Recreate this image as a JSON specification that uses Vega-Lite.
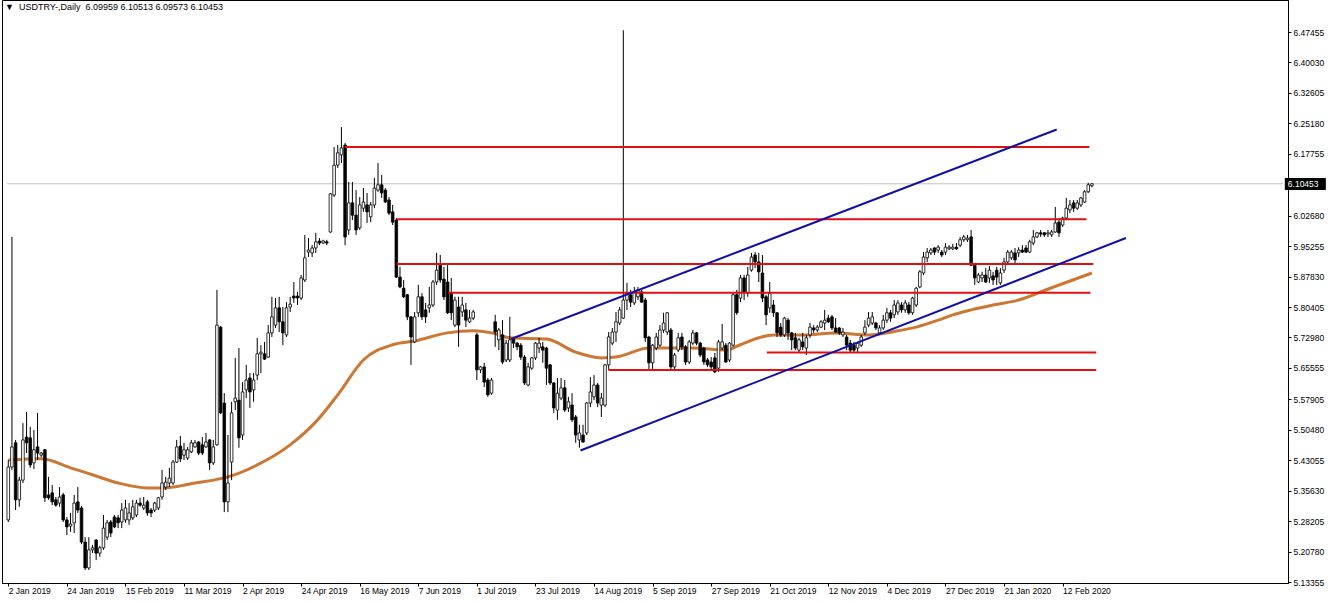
{
"$schema": "https://vega.github.io/schema/vega-lite/v6.json",
"width": 1286, "height": 583,
"autosize": {"type": "none"},
"padding": {"left": 2, "top": 0, "right": 44, "bottom": 20},
"background": "#ffffff",
"config": {"view": {"stroke": "#000000", "strokeWidth": 1}, "axis": {"domainColor": "#000000", "tickColor": "#000000", "labelColor": "#000000", "labelFont": "Liberation Sans", "labelFontSize": 8.5, "grid": false, "tickSize": 3}},
"title": {"text": "\u25bc\u00a0\u00a0USDTRY-,Daily\u00a0\u00a06.09959 6.10513 6.09573 6.10453", "anchor": "start", "frame": "group", "orient": "top", "baseline": "top", "offset": -12, "dx": 3, "font": "Liberation Sans", "fontSize": 9, "fontWeight": "normal", "color": "#000000"},
"datasets": {
"candles": [
{"i":0,"o":5.285,"h":5.431,"l":5.280,"c":5.414},
{"i":1,"o":5.414,"h":5.975,"l":5.407,"c":5.463},
{"i":2,"o":5.473,"h":5.480,"l":5.309,"c":5.334},
{"i":3,"o":5.334,"h":5.390,"l":5.317,"c":5.382},
{"i":4,"o":5.382,"h":5.521,"l":5.375,"c":5.480},
{"i":5,"o":5.487,"h":5.548,"l":5.448,"c":5.473},
{"i":6,"o":5.485,"h":5.512,"l":5.412,"c":5.419},
{"i":7,"o":5.424,"h":5.504,"l":5.409,"c":5.456},
{"i":8,"o":5.463,"h":5.546,"l":5.431,"c":5.448},
{"i":9,"o":5.443,"h":5.451,"l":5.438,"c":5.448},
{"i":10,"o":5.456,"h":5.458,"l":5.329,"c":5.339},
{"i":11,"o":5.346,"h":5.390,"l":5.334,"c":5.339},
{"i":12,"o":5.351,"h":5.370,"l":5.321,"c":5.329},
{"i":13,"o":5.334,"h":5.341,"l":5.317,"c":5.321},
{"i":14,"o":5.326,"h":5.365,"l":5.317,"c":5.341},
{"i":15,"o":5.346,"h":5.351,"l":5.280,"c":5.285},
{"i":16,"o":5.285,"h":5.292,"l":5.248,"c":5.268},
{"i":17,"o":5.270,"h":5.302,"l":5.256,"c":5.275},
{"i":18,"o":5.278,"h":5.346,"l":5.253,"c":5.326},
{"i":19,"o":5.329,"h":5.365,"l":5.302,"c":5.309},
{"i":20,"o":5.314,"h":5.319,"l":5.226,"c":5.231},
{"i":21,"o":5.231,"h":5.243,"l":5.163,"c":5.168},
{"i":22,"o":5.168,"h":5.243,"l":5.163,"c":5.212},
{"i":23,"o":5.212,"h":5.224,"l":5.204,"c":5.217},
{"i":24,"o":5.236,"h":5.238,"l":5.187,"c":5.204},
{"i":25,"o":5.204,"h":5.222,"l":5.195,"c":5.217},
{"i":26,"o":5.217,"h":5.297,"l":5.212,"c":5.265},
{"i":27,"o":5.243,"h":5.285,"l":5.236,"c":5.278},
{"i":28,"o":5.280,"h":5.285,"l":5.243,"c":5.253},
{"i":29,"o":5.292,"h":5.297,"l":5.265,"c":5.268},
{"i":30,"o":5.290,"h":5.297,"l":5.265,"c":5.278},
{"i":31,"o":5.280,"h":5.326,"l":5.265,"c":5.309},
{"i":32,"o":5.285,"h":5.334,"l":5.278,"c":5.314},
{"i":33,"o":5.285,"h":5.326,"l":5.273,"c":5.302},
{"i":34,"o":5.290,"h":5.334,"l":5.285,"c":5.317},
{"i":35,"o":5.297,"h":5.334,"l":5.292,"c":5.326},
{"i":36,"o":5.326,"h":5.339,"l":5.317,"c":5.321},
{"i":37,"o":5.314,"h":5.341,"l":5.309,"c":5.321},
{"i":38,"o":5.329,"h":5.334,"l":5.295,"c":5.302},
{"i":39,"o":5.309,"h":5.314,"l":5.292,"c":5.302},
{"i":40,"o":5.309,"h":5.329,"l":5.304,"c":5.326},
{"i":41,"o":5.314,"h":5.341,"l":5.309,"c":5.339},
{"i":42,"o":5.341,"h":5.407,"l":5.334,"c":5.375},
{"i":43,"o":5.365,"h":5.390,"l":5.358,"c":5.377},
{"i":44,"o":5.375,"h":5.412,"l":5.365,"c":5.387},
{"i":45,"o":5.375,"h":5.431,"l":5.370,"c":5.426},
{"i":46,"o":5.426,"h":5.480,"l":5.424,"c":5.463},
{"i":47,"o":5.465,"h":5.490,"l":5.426,"c":5.434},
{"i":48,"o":5.443,"h":5.473,"l":5.431,"c":5.456},
{"i":49,"o":5.436,"h":5.463,"l":5.431,"c":5.456},
{"i":50,"o":5.451,"h":5.480,"l":5.448,"c":5.473},
{"i":51,"o":5.463,"h":5.480,"l":5.461,"c":5.473},
{"i":52,"o":5.475,"h":5.477,"l":5.443,"c":5.448},
{"i":53,"o":5.468,"h":5.487,"l":5.443,"c":5.448},
{"i":54,"o":5.463,"h":5.497,"l":5.461,"c":5.475},
{"i":55,"o":5.480,"h":5.482,"l":5.407,"c":5.424},
{"i":56,"o":5.424,"h":5.480,"l":5.419,"c":5.463},
{"i":57,"o":5.468,"h":5.846,"l":5.466,"c":5.760},
{"i":58,"o":5.755,"h":5.758,"l":5.543,"c":5.546},
{"i":59,"o":5.570,"h":5.594,"l":5.304,"c":5.329},
{"i":60,"o":5.329,"h":5.492,"l":5.304,"c":5.375},
{"i":61,"o":5.426,"h":5.573,"l":5.382,"c":5.546},
{"i":62,"o":5.573,"h":5.680,"l":5.553,"c":5.582},
{"i":63,"o":5.577,"h":5.704,"l":5.461,"c":5.485},
{"i":64,"o":5.492,"h":5.621,"l":5.480,"c":5.597},
{"i":65,"o":5.602,"h":5.663,"l":5.582,"c":5.626},
{"i":66,"o":5.631,"h":5.643,"l":5.558,"c":5.597},
{"i":67,"o":5.602,"h":5.643,"l":5.573,"c":5.626},
{"i":68,"o":5.638,"h":5.729,"l":5.626,"c":5.690},
{"i":69,"o":5.690,"h":5.711,"l":5.643,"c":5.694},
{"i":70,"o":5.690,"h":5.719,"l":5.675,"c":5.677},
{"i":71,"o":5.682,"h":5.760,"l":5.680,"c":5.741},
{"i":72,"o":5.741,"h":5.829,"l":5.731,"c":5.780},
{"i":73,"o":5.760,"h":5.826,"l":5.753,"c":5.802},
{"i":74,"o":5.802,"h":5.829,"l":5.743,"c":5.768},
{"i":75,"o":5.768,"h":5.804,"l":5.711,"c":5.741},
{"i":76,"o":5.736,"h":5.816,"l":5.731,"c":5.802},
{"i":77,"o":5.804,"h":5.829,"l":5.792,"c":5.811},
{"i":78,"o":5.831,"h":5.865,"l":5.814,"c":5.826},
{"i":79,"o":5.831,"h":5.841,"l":5.809,"c":5.826},
{"i":80,"o":5.826,"h":5.882,"l":5.821,"c":5.875},
{"i":81,"o":5.870,"h":5.980,"l":5.865,"c":5.924},
{"i":82,"o":5.938,"h":5.972,"l":5.926,"c":5.943},
{"i":83,"o":5.936,"h":5.955,"l":5.926,"c":5.948},
{"i":84,"o":5.948,"h":5.985,"l":5.936,"c":5.963},
{"i":85,"o":5.965,"h":5.972,"l":5.955,"c":5.960},
{"i":86,"o":5.960,"h":5.968,"l":5.958,"c":5.965},
{"i":87,"o":5.963,"h":5.968,"l":5.955,"c":5.960},
{"i":88,"o":5.987,"h":6.082,"l":5.985,"c":6.080},
{"i":89,"o":6.077,"h":6.194,"l":6.072,"c":6.150},
{"i":90,"o":6.150,"h":6.199,"l":6.143,"c":6.180},
{"i":91,"o":6.175,"h":6.243,"l":6.155,"c":6.192},
{"i":92,"o":6.199,"h":6.204,"l":5.955,"c":5.975},
{"i":93,"o":5.992,"h":6.109,"l":5.980,"c":6.058},
{"i":94,"o":6.058,"h":6.109,"l":6.016,"c":6.028},
{"i":95,"o":6.028,"h":6.089,"l":5.980,"c":5.992},
{"i":96,"o":5.997,"h":6.072,"l":5.992,"c":6.053},
{"i":97,"o":6.045,"h":6.094,"l":6.036,"c":6.060},
{"i":98,"o":6.053,"h":6.082,"l":6.009,"c":6.036},
{"i":99,"o":6.024,"h":6.060,"l":6.011,"c":6.053},
{"i":100,"o":6.053,"h":6.119,"l":6.045,"c":6.094},
{"i":101,"o":6.089,"h":6.155,"l":6.085,"c":6.102},
{"i":102,"o":6.102,"h":6.126,"l":6.070,"c":6.082},
{"i":103,"o":6.089,"h":6.094,"l":6.058,"c":6.060},
{"i":104,"o":6.065,"h":6.072,"l":6.028,"c":6.033},
{"i":105,"o":6.036,"h":6.053,"l":6.004,"c":6.011},
{"i":106,"o":6.016,"h":6.021,"l":5.875,"c":5.877},
{"i":107,"o":5.877,"h":5.902,"l":5.850,"c":5.853},
{"i":108,"o":5.850,"h":5.870,"l":5.826,"c":5.829},
{"i":109,"o":5.834,"h":5.836,"l":5.772,"c":5.780},
{"i":110,"o":5.780,"h":5.782,"l":5.663,"c":5.731},
{"i":111,"o":5.719,"h":5.792,"l":5.716,"c":5.780},
{"i":112,"o":5.790,"h":5.858,"l":5.780,"c":5.829},
{"i":113,"o":5.829,"h":5.838,"l":5.772,"c":5.780},
{"i":114,"o":5.797,"h":5.814,"l":5.765,"c":5.780},
{"i":115,"o":5.802,"h":5.853,"l":5.790,"c":5.809},
{"i":116,"o":5.809,"h":5.870,"l":5.804,"c":5.865},
{"i":117,"o":5.865,"h":5.936,"l":5.858,"c":5.894},
{"i":118,"o":5.906,"h":5.931,"l":5.863,"c":5.870},
{"i":119,"o":5.872,"h":5.902,"l":5.821,"c":5.829},
{"i":120,"o":5.865,"h":5.906,"l":5.787,"c":5.790},
{"i":121,"o":5.838,"h":5.875,"l":5.772,"c":5.790},
{"i":122,"o":5.760,"h":5.829,"l":5.755,"c":5.821},
{"i":123,"o":5.804,"h":5.829,"l":5.707,"c":5.760},
{"i":124,"o":5.792,"h":5.829,"l":5.780,"c":5.809},
{"i":125,"o":5.797,"h":5.814,"l":5.755,"c":5.772},
{"i":126,"o":5.768,"h":5.797,"l":5.765,"c":5.777},
{"i":127,"o":5.777,"h":5.797,"l":5.772,"c":5.792},
{"i":128,"o":5.736,"h":5.741,"l":5.626,"c":5.651},
{"i":129,"o":5.651,"h":5.660,"l":5.643,"c":5.658},
{"i":130,"o":5.658,"h":5.668,"l":5.609,"c":5.621},
{"i":131,"o":5.626,"h":5.631,"l":5.585,"c":5.590},
{"i":132,"o":5.594,"h":5.631,"l":5.590,"c":5.626},
{"i":133,"o":5.768,"h":5.785,"l":5.707,"c":5.743},
{"i":134,"o":5.724,"h":5.753,"l":5.699,"c":5.748},
{"i":135,"o":5.736,"h":5.772,"l":5.665,"c":5.670},
{"i":136,"o":5.675,"h":5.724,"l":5.670,"c":5.716},
{"i":137,"o":5.675,"h":5.780,"l":5.670,"c":5.724},
{"i":138,"o":5.726,"h":5.731,"l":5.704,"c":5.716},
{"i":139,"o":5.716,"h":5.719,"l":5.699,"c":5.707},
{"i":140,"o":5.711,"h":5.716,"l":5.675,"c":5.682},
{"i":141,"o":5.682,"h":5.687,"l":5.614,"c":5.619},
{"i":142,"o":5.614,"h":5.668,"l":5.611,"c":5.658},
{"i":143,"o":5.655,"h":5.682,"l":5.651,"c":5.680},
{"i":144,"o":5.680,"h":5.719,"l":5.675,"c":5.716},
{"i":145,"o":5.704,"h":5.729,"l":5.692,"c":5.716},
{"i":146,"o":5.707,"h":5.719,"l":5.668,"c":5.699},
{"i":147,"o":5.704,"h":5.707,"l":5.614,"c":5.655},
{"i":148,"o":5.663,"h":5.665,"l":5.614,"c":5.619},
{"i":149,"o":5.619,"h":5.621,"l":5.546,"c":5.558},
{"i":150,"o":5.553,"h":5.631,"l":5.529,"c":5.594},
{"i":151,"o":5.582,"h":5.631,"l":5.577,"c":5.607},
{"i":152,"o":5.607,"h":5.626,"l":5.548,"c":5.553},
{"i":153,"o":5.558,"h":5.585,"l":5.548,"c":5.573},
{"i":154,"o":5.565,"h":5.594,"l":5.524,"c":5.529},
{"i":155,"o":5.536,"h":5.541,"l":5.473,"c":5.492},
{"i":156,"o":5.480,"h":5.517,"l":5.461,"c":5.497},
{"i":157,"o":5.492,"h":5.517,"l":5.473,"c":5.475},
{"i":158,"o":5.497,"h":5.572,"l":5.492,"c":5.570},
{"i":159,"o":5.570,"h":5.633,"l":5.560,"c":5.597},
{"i":160,"o":5.585,"h":5.638,"l":5.577,"c":5.614},
{"i":161,"o":5.614,"h":5.619,"l":5.560,"c":5.570},
{"i":162,"o":5.565,"h":5.594,"l":5.536,"c":5.582},
{"i":163,"o":5.565,"h":5.665,"l":5.560,"c":5.663},
{"i":164,"o":5.663,"h":5.743,"l":5.651,"c":5.731},
{"i":165,"o":5.716,"h":5.753,"l":5.711,"c":5.743},
{"i":166,"o":5.743,"h":5.792,"l":5.719,"c":5.768},
{"i":167,"o":5.765,"h":5.804,"l":5.760,"c":5.797},
{"i":168,"o":5.777,"h":6.479,"l":5.775,"c":5.821},
{"i":169,"o":5.821,"h":5.863,"l":5.797,"c":5.838},
{"i":170,"o":5.834,"h":5.846,"l":5.804,"c":5.816},
{"i":171,"o":5.814,"h":5.853,"l":5.809,"c":5.841},
{"i":172,"o":5.829,"h":5.853,"l":5.821,"c":5.846},
{"i":173,"o":5.841,"h":5.846,"l":5.814,"c":5.816},
{"i":174,"o":5.821,"h":5.826,"l":5.719,"c":5.729},
{"i":175,"o":5.731,"h":5.734,"l":5.651,"c":5.668},
{"i":176,"o":5.668,"h":5.714,"l":5.651,"c":5.711},
{"i":177,"o":5.704,"h":5.741,"l":5.699,"c":5.731},
{"i":178,"o":5.711,"h":5.760,"l":5.707,"c":5.748},
{"i":179,"o":5.748,"h":5.790,"l":5.741,"c":5.765},
{"i":180,"o":5.743,"h":5.792,"l":5.736,"c":5.790},
{"i":181,"o":5.748,"h":5.753,"l":5.651,"c":5.658},
{"i":182,"o":5.658,"h":5.692,"l":5.651,"c":5.687},
{"i":183,"o":5.699,"h":5.741,"l":5.694,"c":5.729},
{"i":184,"o":5.731,"h":5.741,"l":5.699,"c":5.707},
{"i":185,"o":5.707,"h":5.711,"l":5.663,"c":5.670},
{"i":186,"o":5.670,"h":5.724,"l":5.665,"c":5.719},
{"i":187,"o":5.716,"h":5.748,"l":5.711,"c":5.741},
{"i":188,"o":5.741,"h":5.743,"l":5.711,"c":5.716},
{"i":189,"o":5.716,"h":5.719,"l":5.682,"c":5.687},
{"i":190,"o":5.704,"h":5.707,"l":5.663,"c":5.670},
{"i":191,"o":5.675,"h":5.680,"l":5.658,"c":5.663},
{"i":192,"o":5.670,"h":5.682,"l":5.651,"c":5.658},
{"i":193,"o":5.680,"h":5.692,"l":5.643,"c":5.646},
{"i":194,"o":5.655,"h":5.724,"l":5.646,"c":5.719},
{"i":195,"o":5.704,"h":5.763,"l":5.699,"c":5.719},
{"i":196,"o":5.711,"h":5.716,"l":5.668,"c":5.670},
{"i":197,"o":5.675,"h":5.719,"l":5.670,"c":5.716},
{"i":198,"o":5.711,"h":5.841,"l":5.707,"c":5.834},
{"i":199,"o":5.834,"h":5.846,"l":5.785,"c":5.790},
{"i":200,"o":5.826,"h":5.882,"l":5.816,"c":5.875},
{"i":201,"o":5.875,"h":5.882,"l":5.821,"c":5.841},
{"i":202,"o":5.838,"h":5.902,"l":5.829,"c":5.882},
{"i":203,"o":5.894,"h":5.936,"l":5.890,"c":5.926},
{"i":204,"o":5.931,"h":5.938,"l":5.899,"c":5.914},
{"i":205,"o":5.914,"h":5.936,"l":5.865,"c":5.890},
{"i":206,"o":5.887,"h":5.931,"l":5.816,"c":5.826},
{"i":207,"o":5.829,"h":5.834,"l":5.760,"c":5.785},
{"i":208,"o":5.802,"h":5.865,"l":5.790,"c":5.838},
{"i":209,"o":5.809,"h":5.821,"l":5.780,"c":5.790},
{"i":210,"o":5.790,"h":5.792,"l":5.731,"c":5.741},
{"i":211,"o":5.755,"h":5.765,"l":5.731,"c":5.736},
{"i":212,"o":5.736,"h":5.780,"l":5.731,"c":5.777},
{"i":213,"o":5.772,"h":5.777,"l":5.724,"c":5.741},
{"i":214,"o":5.741,"h":5.743,"l":5.699,"c":5.724},
{"i":215,"o":5.729,"h":5.741,"l":5.699,"c":5.704},
{"i":216,"o":5.699,"h":5.729,"l":5.694,"c":5.724},
{"i":217,"o":5.719,"h":5.741,"l":5.699,"c":5.707},
{"i":218,"o":5.704,"h":5.736,"l":5.687,"c":5.729},
{"i":219,"o":5.736,"h":5.765,"l":5.729,"c":5.755},
{"i":220,"o":5.753,"h":5.760,"l":5.741,"c":5.748},
{"i":221,"o":5.748,"h":5.760,"l":5.743,"c":5.755},
{"i":222,"o":5.755,"h":5.772,"l":5.753,"c":5.768},
{"i":223,"o":5.765,"h":5.797,"l":5.748,"c":5.772},
{"i":224,"o":5.777,"h":5.785,"l":5.765,"c":5.768},
{"i":225,"o":5.780,"h":5.785,"l":5.748,"c":5.753},
{"i":226,"o":5.753,"h":5.777,"l":5.741,"c":5.743},
{"i":227,"o":5.753,"h":5.755,"l":5.736,"c":5.741},
{"i":228,"o":5.736,"h":5.753,"l":5.731,"c":5.743},
{"i":229,"o":5.731,"h":5.736,"l":5.699,"c":5.711},
{"i":230,"o":5.716,"h":5.724,"l":5.694,"c":5.699},
{"i":231,"o":5.711,"h":5.719,"l":5.694,"c":5.699},
{"i":232,"o":5.704,"h":5.719,"l":5.692,"c":5.716},
{"i":233,"o":5.711,"h":5.736,"l":5.707,"c":5.731},
{"i":234,"o":5.741,"h":5.772,"l":5.736,"c":5.755},
{"i":235,"o":5.760,"h":5.792,"l":5.755,"c":5.777},
{"i":236,"o":5.765,"h":5.792,"l":5.760,"c":5.780},
{"i":237,"o":5.765,"h":5.768,"l":5.748,"c":5.753},
{"i":238,"o":5.741,"h":5.760,"l":5.736,"c":5.753},
{"i":239,"o":5.753,"h":5.785,"l":5.748,"c":5.772},
{"i":240,"o":5.772,"h":5.802,"l":5.765,"c":5.790},
{"i":241,"o":5.790,"h":5.797,"l":5.768,"c":5.777},
{"i":242,"o":5.785,"h":5.821,"l":5.777,"c":5.809},
{"i":243,"o":5.792,"h":5.821,"l":5.785,"c":5.814},
{"i":244,"o":5.809,"h":5.816,"l":5.790,"c":5.797},
{"i":245,"o":5.797,"h":5.821,"l":5.790,"c":5.814},
{"i":246,"o":5.809,"h":5.816,"l":5.785,"c":5.790},
{"i":247,"o":5.790,"h":5.829,"l":5.785,"c":5.826},
{"i":248,"o":5.809,"h":5.853,"l":5.804,"c":5.850},
{"i":249,"o":5.853,"h":5.894,"l":5.850,"c":5.890},
{"i":250,"o":5.887,"h":5.938,"l":5.882,"c":5.926},
{"i":251,"o":5.924,"h":5.948,"l":5.914,"c":5.938},
{"i":252,"o":5.936,"h":5.948,"l":5.931,"c":5.943},
{"i":253,"o":5.948,"h":5.950,"l":5.931,"c":5.938},
{"i":254,"o":5.943,"h":5.955,"l":5.936,"c":5.950},
{"i":255,"o":5.938,"h":5.943,"l":5.926,"c":5.931},
{"i":256,"o":5.938,"h":5.960,"l":5.931,"c":5.950},
{"i":257,"o":5.946,"h":5.955,"l":5.943,"c":5.950},
{"i":258,"o":5.946,"h":5.958,"l":5.943,"c":5.950},
{"i":259,"o":5.950,"h":5.960,"l":5.943,"c":5.946},
{"i":260,"o":5.955,"h":5.975,"l":5.950,"c":5.968},
{"i":261,"o":5.968,"h":5.980,"l":5.963,"c":5.975},
{"i":262,"o":5.968,"h":5.980,"l":5.963,"c":5.972},
{"i":263,"o":5.975,"h":5.992,"l":5.904,"c":5.906},
{"i":264,"o":5.906,"h":5.911,"l":5.858,"c":5.875},
{"i":265,"o":5.865,"h":5.887,"l":5.863,"c":5.882},
{"i":266,"o":5.875,"h":5.890,"l":5.865,"c":5.882},
{"i":267,"o":5.882,"h":5.899,"l":5.863,"c":5.865},
{"i":268,"o":5.875,"h":5.904,"l":5.863,"c":5.894},
{"i":269,"o":5.880,"h":5.890,"l":5.858,"c":5.870},
{"i":270,"o":5.894,"h":5.902,"l":5.858,"c":5.877},
{"i":271,"o":5.863,"h":5.899,"l":5.858,"c":5.887},
{"i":272,"o":5.894,"h":5.924,"l":5.887,"c":5.914},
{"i":273,"o":5.914,"h":5.943,"l":5.911,"c":5.938},
{"i":274,"o":5.924,"h":5.943,"l":5.919,"c":5.938},
{"i":275,"o":5.936,"h":5.948,"l":5.911,"c":5.919},
{"i":276,"o":5.936,"h":5.950,"l":5.926,"c":5.943},
{"i":277,"o":5.943,"h":5.955,"l":5.936,"c":5.938},
{"i":278,"o":5.948,"h":5.955,"l":5.936,"c":5.938},
{"i":279,"o":5.938,"h":5.968,"l":5.936,"c":5.963},
{"i":280,"o":5.960,"h":5.992,"l":5.955,"c":5.975},
{"i":281,"o":5.975,"h":5.987,"l":5.972,"c":5.985},
{"i":282,"o":5.985,"h":5.992,"l":5.975,"c":5.982},
{"i":283,"o":5.985,"h":5.987,"l":5.975,"c":5.980},
{"i":284,"o":5.982,"h":5.992,"l":5.975,"c":5.985},
{"i":285,"o":5.980,"h":5.992,"l":5.975,"c":5.987},
{"i":286,"o":5.987,"h":6.048,"l":5.985,"c":6.009},
{"i":287,"o":6.011,"h":6.021,"l":5.975,"c":5.985},
{"i":288,"o":6.004,"h":6.024,"l":5.999,"c":6.021},
{"i":289,"o":6.021,"h":6.070,"l":6.016,"c":6.045},
{"i":290,"o":6.041,"h":6.065,"l":6.033,"c":6.053},
{"i":291,"o":6.058,"h":6.065,"l":6.036,"c":6.045},
{"i":292,"o":6.045,"h":6.065,"l":6.041,"c":6.058},
{"i":293,"o":6.053,"h":6.072,"l":6.048,"c":6.070},
{"i":294,"o":6.060,"h":6.089,"l":6.058,"c":6.085},
{"i":295,"o":6.085,"h":6.107,"l":6.082,"c":6.102},
{"i":296,"o":6.09959,"h":6.10513,"l":6.09573,"c":6.10453}
],
"ma": [
{"i":0,"v":5.431},{"i":9,"v":5.434},{"i":17,"v":5.412},{"i":23,"v":5.395},{"i":30,"v":5.375},{"i":38,"v":5.363},{"i":42,"v":5.363},{"i":47,"v":5.368},{"i":51,"v":5.375},{"i":56,"v":5.382},{"i":60,"v":5.390},{"i":68,"v":5.419},{"i":77,"v":5.468},{"i":84,"v":5.524},{"i":90,"v":5.590},{"i":97,"v":5.675},{"i":105,"v":5.712},{"i":111,"v":5.721},{"i":120,"v":5.741},{"i":127,"v":5.746},{"i":132,"v":5.741},{"i":137,"v":5.729},{"i":147,"v":5.726},{"i":155,"v":5.694},{"i":162,"v":5.680},{"i":166,"v":5.682},{"i":175,"v":5.704},{"i":187,"v":5.704},{"i":196,"v":5.699},{"i":200,"v":5.712},{"i":205,"v":5.729},{"i":209,"v":5.736},{"i":217,"v":5.736},{"i":226,"v":5.741},{"i":235,"v":5.736},{"i":243,"v":5.746},{"i":248,"v":5.755},{"i":254,"v":5.772},{"i":258,"v":5.785},{"i":263,"v":5.797},{"i":269,"v":5.809},{"i":276,"v":5.821},{"i":285,"v":5.851},{"i":296,"v":5.887}
],
"levels": [
{"i":92,"i2":295.3,"p":6.194},{"i":106.1,"i2":294.5,"p":6.018},{"i":106.1,"i2":296.4,"p":5.909},{"i":120.2,"i2":295.6,"p":5.839},{"i":207.2,"i2":297.2,"p":5.693},{"i":163.9,"i2":297.2,"p":5.6505}
],
"channel": [
{"s":1,"i":137.3,"p":5.7261},{"s":1,"i":286.4,"p":6.2368},{"s":2,"i":156.3,"p":5.4543},{"s":2,"i":305.3,"p":5.9723}
],
"bidline": [{"i":-0.35,"i2":348.2,"p":6.10453}],
"bidbox": [{"i":348.7,"i2":359.9,"top":6.1187,"bot":6.0894,"t":"6.10453","p":6.10453}]
},
"encoding": {
"x": {"field": "i", "type": "quantitative", "scale": {"domain": [-0.35, 348.2], "nice": false, "zero": false},
"axis": {"title": null, "values": [0,16,32,48,64,80,96,112,128,144,160,176,192,208,224,240,256,272,288],
"labelExpr": "['2 Jan 2019','24 Jan 2019','15 Feb 2019','11 Mar 2019','2 Apr 2019','24 Apr 2019','16 May 2019','7 Jun 2019','1 Jul 2019','23 Jul 2019','14 Aug 2019','5 Sep 2019','27 Sep 2019','21 Oct 2019','12 Nov 2019','4 Dec 2019','27 Dec 2019','21 Jan 2020','12 Feb 2020'][round(datum.value/16)]",
"labelAlign": "left", "labelBaseline": "top", "labelPadding": 0, "tickSize": 3, "labelFlush": false, "labelOverlap": false}}
},
"layer": [
{"data": {"name": "bidline"}, "mark": {"type": "rule", "color": "#c0c0c0", "strokeWidth": 1},
 "encoding": {"x2": {"field": "i2"}, "y": {"field": "p", "type": "quantitative", "scale": {"domain": [5.1312, 6.5526], "nice": false, "zero": false},
   "axis": {"orient": "right", "title": null, "values": [6.47455,6.4003,6.32605,6.2518,6.17755,6.0268,5.95255,5.8783,5.80405,5.7298,5.65555,5.57905,5.5048,5.43055,5.3563,5.28205,5.2078,5.13355], "format": ".5f", "tickSize": 3, "labelPadding": 2, "labelAlign": "left", "labelBaseline": "middle", "labelOverlap": false}}}},
{"data": {"name": "ma"}, "mark": {"type": "line", "color": "#cc7733", "strokeWidth": 3, "interpolate": "monotone"},
 "encoding": {"y": {"field": "v", "type": "quantitative", "scale": {"domain": [5.1312, 6.5526], "nice": false, "zero": false},
   "axis": {"orient": "right", "title": null, "values": [6.47455,6.4003,6.32605,6.2518,6.17755,6.0268,5.95255,5.8783,5.80405,5.7298,5.65555,5.57905,5.5048,5.43055,5.3563,5.28205,5.2078,5.13355], "format": ".5f", "tickSize": 3, "labelPadding": 2, "labelAlign": "left", "labelBaseline": "middle", "labelOverlap": false}}}},
{"data": {"name": "candles"}, "mark": {"type": "rule", "color": "#000000", "strokeWidth": 1},
 "encoding": {"y": {"field": "h", "type": "quantitative", "scale": {"domain": [5.1312, 6.5526], "nice": false, "zero": false},
   "axis": {"orient": "right", "title": null, "values": [6.47455,6.4003,6.32605,6.2518,6.17755,6.0268,5.95255,5.8783,5.80405,5.7298,5.65555,5.57905,5.5048,5.43055,5.3563,5.28205,5.2078,5.13355], "format": ".5f", "tickSize": 3, "labelPadding": 2, "labelAlign": "left", "labelBaseline": "middle", "labelOverlap": false}},
  "y2": {"field": "l"}}},
{"data": {"name": "candles"}, "mark": {"type": "bar", "orient": "vertical", "width": 2.6, "stroke": "#000000", "strokeWidth": 0.8},
 "encoding": {"y": {"field": "o", "type": "quantitative", "scale": {"domain": [5.1312, 6.5526], "nice": false, "zero": false},
   "axis": {"orient": "right", "title": null, "values": [6.47455,6.4003,6.32605,6.2518,6.17755,6.0268,5.95255,5.8783,5.80405,5.7298,5.65555,5.57905,5.5048,5.43055,5.3563,5.28205,5.2078,5.13355], "format": ".5f", "tickSize": 3, "labelPadding": 2, "labelAlign": "left", "labelBaseline": "middle", "labelOverlap": false}},
  "y2": {"field": "c"},
  "fill": {"condition": {"test": "datum.c >= datum.o", "value": "#ffffff"}, "value": "#000000"}}},
{"data": {"name": "levels"}, "mark": {"type": "rule", "color": "#e01010", "strokeWidth": 2},
 "encoding": {"x2": {"field": "i2"}, "y": {"field": "p", "type": "quantitative", "scale": {"domain": [5.1312, 6.5526], "nice": false, "zero": false},
   "axis": {"orient": "right", "title": null, "values": [6.47455,6.4003,6.32605,6.2518,6.17755,6.0268,5.95255,5.8783,5.80405,5.7298,5.65555,5.57905,5.5048,5.43055,5.3563,5.28205,5.2078,5.13355], "format": ".5f", "tickSize": 3, "labelPadding": 2, "labelAlign": "left", "labelBaseline": "middle", "labelOverlap": false}}}},
{"data": {"name": "channel"}, "mark": {"type": "line", "color": "#1010a8", "strokeWidth": 2},
 "encoding": {"detail": {"field": "s", "type": "nominal"}, "y": {"field": "p", "type": "quantitative", "scale": {"domain": [5.1312, 6.5526], "nice": false, "zero": false},
   "axis": {"orient": "right", "title": null, "values": [6.47455,6.4003,6.32605,6.2518,6.17755,6.0268,5.95255,5.8783,5.80405,5.7298,5.65555,5.57905,5.5048,5.43055,5.3563,5.28205,5.2078,5.13355], "format": ".5f", "tickSize": 3, "labelPadding": 2, "labelAlign": "left", "labelBaseline": "middle", "labelOverlap": false}}}},
{"data": {"name": "bidbox"}, "mark": {"type": "rect", "color": "#000000"},
 "encoding": {"x2": {"field": "i2"}, "y": {"field": "top", "type": "quantitative", "scale": {"domain": [5.1312, 6.5526], "nice": false, "zero": false},
   "axis": {"orient": "right", "title": null, "values": [6.47455,6.4003,6.32605,6.2518,6.17755,6.0268,5.95255,5.8783,5.80405,5.7298,5.65555,5.57905,5.5048,5.43055,5.3563,5.28205,5.2078,5.13355], "format": ".5f", "tickSize": 3, "labelPadding": 2, "labelAlign": "left", "labelBaseline": "middle", "labelOverlap": false}}, "y2": {"field": "bot"}}},
{"data": {"name": "bidbox"}, "mark": {"type": "text", "color": "#ffffff", "align": "left", "baseline": "middle", "dx": 3, "font": "Liberation Sans", "fontSize": 8.5},
 "encoding": {"y": {"field": "p", "type": "quantitative", "scale": {"domain": [5.1312, 6.5526], "nice": false, "zero": false},
   "axis": {"orient": "right", "title": null, "values": [6.47455,6.4003,6.32605,6.2518,6.17755,6.0268,5.95255,5.8783,5.80405,5.7298,5.65555,5.57905,5.5048,5.43055,5.3563,5.28205,5.2078,5.13355], "format": ".5f", "tickSize": 3, "labelPadding": 2, "labelAlign": "left", "labelBaseline": "middle", "labelOverlap": false}}, "text": {"field": "t"}}}
]
}
